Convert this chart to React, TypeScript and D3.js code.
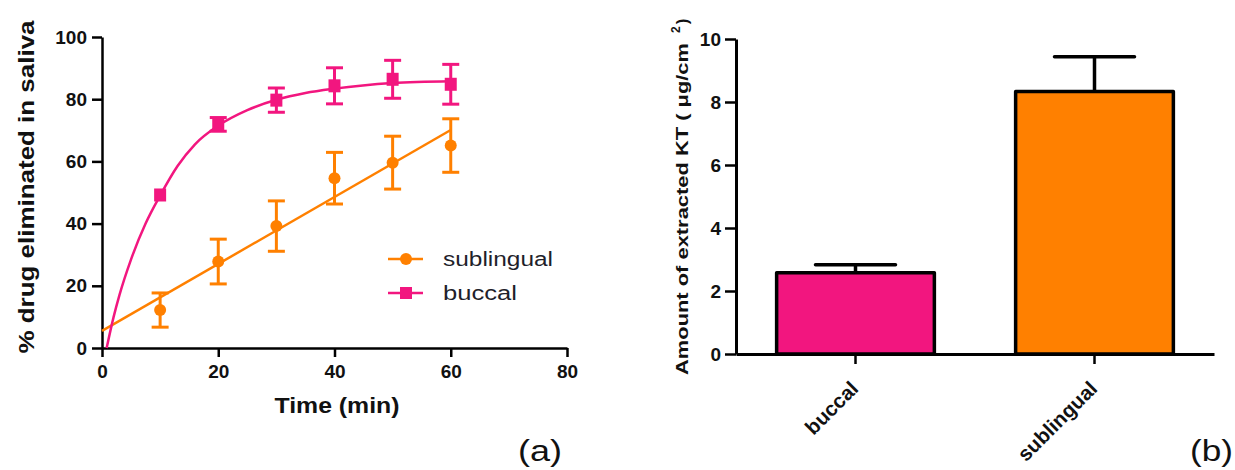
import React, { useEffect, useRef } from 'react';
import * as d3 from 'd3';

// panel (a): cumulative drug in saliva
const timeMin = [10, 20, 30, 40, 50, 60];
const sublingualMean = [12.2, 27.8, 39.2, 54.6, 59.6, 65.1];
const sublingualSem = [5.5, 7.2, 8.1, 8.3, 8.5, 8.6];
const buccalMean = [49.2, 71.9, 79.7, 84.3, 86.4, 84.8];
const buccalSem = [1.2, 2.2, 3.9, 5.8, 6.1, 6.4];

// fitted curves
const sublingualFitX = [0, 60];
const sublingualFitY = [5.5, 70.1];
const buccalFitX = [0.8, 2, 3, 5, 7.5, 10, 13, 16, 20, 25, 30, 35, 40, 50, 60];
const buccalFitY = [0, 10, 17, 28.5, 40, 49, 58.5, 65.5, 71.5, 76.5, 79.8, 82, 83.4, 85.2, 85.8];

const timeTicks = [0, 20, 40, 60, 80];
const percentTicks = [0, 20, 40, 60, 80, 100];

// panel (b): extracted amount
const barCategories = ['buccal', 'sublingual'];
const barMeans = [2.58, 8.33];
const barSem = [0.25, 1.11];
const amountTicks = [0, 2, 4, 6, 8, 10];

const PINK = '#F2167F';
const ORANGE = '#FF8000';
const FONT = '"Liberation Sans", Arial, sans-serif';

const App = () => {
  const ref = useRef<SVGSVGElement>(null);

  useEffect(() => {
    const svg = d3.select(ref.current);
    svg.selectAll('*').remove();
    svg.style('font-family', FONT);

    // ---------- panel (a) ----------
    const x = d3.scaleLinear().domain([0, 80]).range([102, 567]);
    const y = d3.scaleLinear().domain([0, 100]).range([348, 37]);

    const a = svg.append('g');

    const xAxis = a
      .append('g')
      .attr('transform', 'translate(0,348)')
      .call(d3.axisBottom(x).tickValues(timeTicks).tickSize(9).tickSizeOuter(0).tickPadding(8));
    const yAxis = a
      .append('g')
      .attr('transform', 'translate(102,0)')
      .call(d3.axisLeft(y).tickValues(percentTicks).tickSize(10).tickSizeOuter(0).tickPadding(5));
    [xAxis, yAxis].forEach((g) => {
      g.select('.domain').attr('stroke', '#000').attr('stroke-width', 2.5);
      g.selectAll('.tick line').attr('stroke', '#000').attr('stroke-width', 2.5);
      g.selectAll('.tick text')
        .attr('fill', '#111')
        .style('font-family', FONT)
        .style('font-size', '19px')
        .style('font-weight', 'bold');
    });

    const line = d3
      .line<[number, number]>()
      .x((d) => x(d[0]))
      .y((d) => y(d[1]));

    a.append('path')
      .datum(sublingualFitX.map((v, i) => [v, sublingualFitY[i]] as [number, number]))
      .attr('d', line)
      .attr('fill', 'none')
      .attr('stroke', ORANGE)
      .attr('stroke-width', 2.5);

    a.append('path')
      .datum(buccalFitX.map((v, i) => [v, buccalFitY[i]] as [number, number]))
      .attr('d', line.curve(d3.curveMonotoneX))
      .attr('fill', 'none')
      .attr('stroke', PINK)
      .attr('stroke-width', 2.5);

    const series = [
      { mean: sublingualMean, sem: sublingualSem, color: ORANGE, shape: 'circle' },
      { mean: buccalMean, sem: buccalSem, color: PINK, shape: 'square' },
    ];

    series.forEach((s) => {
      const g = a.append('g');
      timeMin.forEach((t, i) => {
        const cx = x(t);
        const top = y(s.mean[i] + s.sem[i]);
        const bot = y(s.mean[i] - s.sem[i]);
        // error bars shorter than the symbol are hidden behind it
        if (bot - top > 12) {
          g.append('line').attr('x1', cx).attr('x2', cx).attr('y1', top).attr('y2', bot)
            .attr('stroke', s.color).attr('stroke-width', 3);
          [top, bot].forEach((yy) => {
            g.append('line').attr('x1', cx - 8.5).attr('x2', cx + 8.5).attr('y1', yy).attr('y2', yy)
              .attr('stroke', s.color).attr('stroke-width', 3);
          });
        }
        if (s.shape === 'circle') {
          g.append('circle').attr('cx', cx).attr('cy', y(s.mean[i])).attr('r', 6).attr('fill', s.color);
        } else {
          g.append('rect').attr('x', cx - 6).attr('y', y(s.mean[i]) - 6.5).attr('width', 12).attr('height', 13)
            .attr('fill', s.color);
        }
      });
    });

    // legend
    const legend = [
      { label: 'sublingual', color: ORANGE, shape: 'circle', y: 259, len: 110 },
      { label: 'buccal', color: PINK, shape: 'square', y: 293, len: 74 },
    ];
    legend.forEach((l) => {
      a.append('line').attr('x1', 388).attr('x2', 423).attr('y1', l.y).attr('y2', l.y)
        .attr('stroke', l.color).attr('stroke-width', 2.5);
      if (l.shape === 'circle') {
        a.append('circle').attr('cx', 406).attr('cy', l.y).attr('r', 6).attr('fill', l.color);
      } else {
        a.append('rect').attr('x', 400).attr('y', l.y - 6).attr('width', 12).attr('height', 12).attr('fill', l.color);
      }
      a.append('text')
        .attr('x', 443)
        .attr('y', l.y + 7)
        .attr('fill', '#1f1f2b')
        .style('font-size', '20px')
        .attr('textLength', l.len)
        .attr('lengthAdjust', 'spacingAndGlyphs')
        .text(l.label);
    });

    a.append('text')
      .attr('x', 337)
      .attr('y', 413)
      .attr('text-anchor', 'middle')
      .attr('fill', '#111')
      .style('font-size', '22px')
      .style('font-weight', 'bold')
      .attr('textLength', 125)
      .attr('lengthAdjust', 'spacingAndGlyphs')
      .text('Time (min)');

    a.append('text')
      .attr('transform', 'translate(34,187) rotate(-90)')
      .attr('text-anchor', 'middle')
      .attr('fill', '#111')
      .style('font-size', '22px')
      .style('font-weight', 'bold')
      .attr('textLength', 333)
      .attr('lengthAdjust', 'spacingAndGlyphs')
      .text('% drug eliminated in saliva');

    a.append('text')
      .attr('x', 518)
      .attr('y', 461)
      .attr('fill', '#111')
      .style('font-size', '30px')
      .attr('textLength', 44)
      .attr('lengthAdjust', 'spacingAndGlyphs')
      .text('(a)');

    // ---------- panel (b) ----------
    const bx = d3.scaleBand().domain(barCategories).range([736, 1214]).paddingInner(0.34).paddingOuter(0.17);
    const by = d3.scaleLinear().domain([0, 10]).range([354, 39]);
    const barColors = [PINK, ORANGE];

    const b = svg.append('g');

    b.selectAll('.bar')
      .data(barCategories)
      .enter()
      .append('rect')
      .attr('class', 'bar')
      .attr('x', (d) => bx(d)!)
      .attr('y', (d, i) => by(barMeans[i]))
      .attr('width', bx.bandwidth())
      .attr('height', (d, i) => 354 - by(barMeans[i]))
      .attr('fill', (d, i) => barColors[i])
      .attr('stroke', '#000')
      .attr('stroke-width', 3.5)
      .attr('stroke-linejoin', 'round');

    barCategories.forEach((c, i) => {
      const cx = bx(c)! + bx.bandwidth() / 2;
      const top = by(barMeans[i] + barSem[i]);
      b.append('line').attr('x1', cx).attr('x2', cx).attr('y1', by(barMeans[i])).attr('y2', top)
        .attr('stroke', '#000').attr('stroke-width', 3.5);
      b.append('line').attr('x1', cx - 40).attr('x2', cx + 40).attr('y1', top).attr('y2', top)
        .attr('stroke', '#000').attr('stroke-width', 3.5).attr('stroke-linecap', 'round');
    });

    const bxAxis = b
      .append('g')
      .attr('transform', 'translate(0,354)')
      .call(d3.axisBottom(bx).tickSize(10).tickSizeOuter(0).tickFormat(() => ''));
    bxAxis.select('.domain').attr('stroke', '#000').attr('stroke-width', 3);
    bxAxis.selectAll('.tick line').attr('stroke', '#000').attr('stroke-width', 2.5);

    const byAxis = b
      .append('g')
      .attr('transform', 'translate(736,0)')
      .call(d3.axisLeft(by).tickValues(amountTicks).tickSize(11).tickSizeOuter(0).tickPadding(4));
    byAxis.select('.domain').attr('stroke', '#000').attr('stroke-width', 3);
    byAxis.selectAll('.tick line').attr('stroke', '#000').attr('stroke-width', 2.5);
    byAxis.selectAll('.tick text')
      .attr('fill', '#111')
      .style('font-family', FONT)
      .style('font-size', '19px')
      .style('font-weight', 'bold');

    barCategories.forEach((c) => {
      const cx = bx(c)! + bx.bandwidth() / 2;
      b.append('text')
        .attr('transform', `translate(${cx + 4},390) rotate(-45)`)
        .attr('text-anchor', 'end')
        .attr('fill', '#111')
        .style('font-size', '20.5px')
        .style('font-weight', 'bold')
        .text(c);
    });

    const yl = b
      .append('text')
      .attr('transform', 'translate(688,375) rotate(-90)')
      .attr('fill', '#111')
      .style('font-size', '17px')
      .style('font-weight', 'bold');
    yl.append('tspan').attr('textLength', 332).attr('lengthAdjust', 'spacingAndGlyphs')
      .text('Amount of extracted KT ( \u03bcg/cm');
    yl.append('tspan').attr('dx', 10).attr('dy', -8).style('font-size', '12px').text('2');
    yl.append('tspan').attr('dx', 2).attr('dy', 8).text(')');

    b.append('text')
      .attr('x', 1190)
      .attr('y', 461)
      .attr('fill', '#111')
      .style('font-size', '30px')
      .attr('textLength', 43)
      .attr('lengthAdjust', 'spacingAndGlyphs')
      .text('(b)');
  }, []);

  return (
    <svg
      ref={ref}
      width={1235}
      height={470}
      style={{ position: 'absolute', left: 0, top: 0, background: '#fff' }}
    />
  );
};

export default App;
